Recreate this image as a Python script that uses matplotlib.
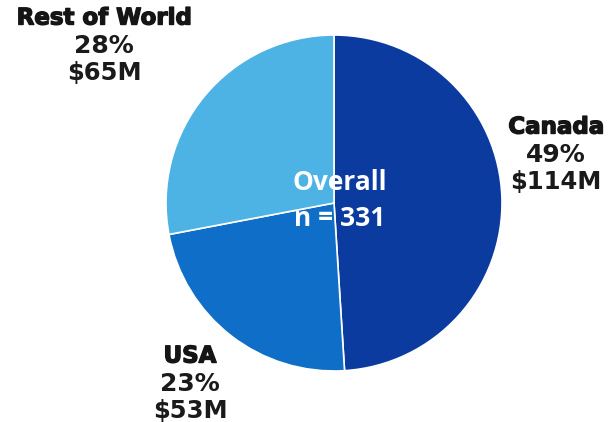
import matplotlib
matplotlib.use("Agg")
import matplotlib.pyplot as plt
import matplotlib.patheffects as pe

# regional split of funding
regions = ["Canada", "USA", "Rest of World"]
shares = [49, 23, 28]
amounts = ["$114M", "$53M", "$65M"]
colors = ["#0b3b9f", "#0f6ec7", "#4db3e4"]

W, H = 613, 422
fig = plt.figure(figsize=(W / 100, H / 100), dpi=100)
ax = fig.add_axes([0, 0, 1, 1])

cx, cy, r = 334, H - 203, 168
ax.pie(shares, colors=colors, startangle=90, counterclock=False,
       center=(cx, cy), radius=r, frame=True,
       wedgeprops=dict(edgecolor="white", linewidth=1.2))
ax.set_xlim(0, W)
ax.set_ylim(0, H)
ax.set_aspect("equal")
ax.axis("off")

# heavier stroke for the region names
heavy = [pe.withStroke(linewidth=1.0, foreground="#151515")]

# label positions (x, top line y) in pixels from top-left
label_pos = {"Canada": (556, 127), "USA": (190, 356), "Rest of World": (104, 18)}
for name, pct, amt in zip(regions, shares, amounts):
    x, y = label_pos[name]
    ax.text(x, H - y, name, ha="center", va="center", fontsize=16.5,
            fontweight="bold", family="DejaVu Sans", color="#151515",
            path_effects=heavy)
    ax.text(x, H - y - 28, f"{pct}%", ha="center", va="center", fontsize=18,
            fontweight="bold", family="DejaVu Sans", color="#1a1a1a")
    ax.text(x, H - y - 55, amt, ha="center", va="center", fontsize=17.5,
            fontweight="bold", family="DejaVu Sans", color="#1a1a1a")

ax.text(340, H - 183, "Overall", ha="center", va="center", fontsize=19,
        fontweight="bold", family="Open Sans", color="white")
ax.text(340, H - 218, "n = 331", ha="center", va="center", fontsize=19,
        fontweight="bold", family="Open Sans", color="white")

fig.savefig("out.png", dpi=100, facecolor="white")
